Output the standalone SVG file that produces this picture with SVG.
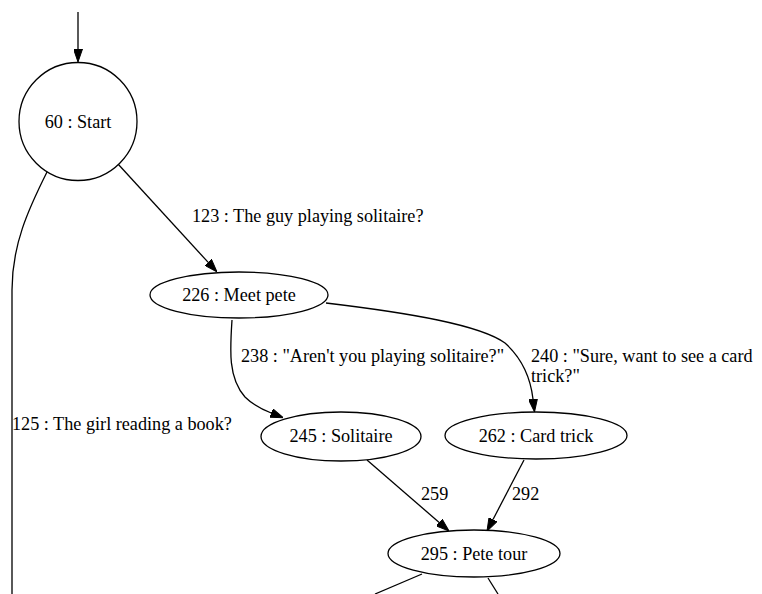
<svg xmlns="http://www.w3.org/2000/svg" width="762" height="594" viewBox="0 0 762 594">
<style>
  .node { fill: #ffffff; stroke: #000000; stroke-width: 1.3; }
  .edge { fill: none; stroke: #000000; stroke-width: 1.3; }
  text { font-family: "Liberation Serif", "Times New Roman", serif; font-size: 18.2px; fill: #000000; }
  .c { text-anchor: middle; }
</style>
<defs>
  <marker id="arrow" viewBox="0 0 13 9" refX="0" refY="4.5" markerWidth="13" markerHeight="9" markerUnits="userSpaceOnUse" orient="auto">
    <path d="M0,0 L13,4.5 L0,9 z" fill="#000000" stroke="#000000" stroke-width="1"/>
  </marker>
</defs>
<rect width="762" height="594" fill="#ffffff"/>
<g id="edges">
  <path class="edge" d="M78,12 L78,49" marker-end="url(#arrow)"/>
  <path class="edge" d="M118,164 L208.2,262.4" marker-end="url(#arrow)"/>
  <text x="192" y="222">123 : The guy playing solitaire?</text>
  <path class="edge" d="M47,172 C28,210 12,245 12,290 L12,594"/>
  <text x="12" y="430">125 : The girl reading a book?</text>
  <path class="edge" d="M232,320 C230,350 228,378 245,397 C252,404 261,409 271.2,413" marker-end="url(#arrow)"/>
  <text x="241" y="362">238 : "Aren't you playing solitaire?"</text>
  <path class="edge" d="M326,303 C410,313 480,325 505,343 C524,360 531,382 533,399" marker-end="url(#arrow)"/>
  <text x="531" y="362">240 : "Sure, want to see a card</text>
  <text x="531" y="382">trick?"</text>
  <path class="edge" d="M367,460 L439.2,522.5" marker-end="url(#arrow)"/>
  <text x="421" y="500">259</text>
  <path class="edge" d="M524,460 L493,519.5" marker-end="url(#arrow)"/>
  <text x="512" y="500">292</text>
  <path class="edge" d="M422,574 L375,594"/>
  <path class="edge" d="M488,578 L498,594"/>
</g>
<g id="n60">
  <circle class="node" cx="78" cy="121.5" r="59"/>
  <text class="c" x="78" y="127.5">60 : Start</text>
</g>
<g id="n226">
  <ellipse class="node" cx="239" cy="295" rx="89" ry="23"/>
  <text class="c" x="239" y="301">226 : Meet pete</text>
</g>
<g id="n245">
  <ellipse class="node" cx="341" cy="436.5" rx="80" ry="24.5"/>
  <text class="c" x="341" y="442">245 : Solitaire</text>
</g>
<g id="n262">
  <ellipse class="node" cx="536" cy="435.5" rx="91" ry="23.5"/>
  <text class="c" x="536" y="442">262 : Card trick</text>
</g>
<g id="n295">
  <ellipse class="node" cx="474" cy="553.5" rx="86" ry="23.5"/>
  <text class="c" x="474" y="559.5">295 : Pete tour</text>
</g>
</svg>
